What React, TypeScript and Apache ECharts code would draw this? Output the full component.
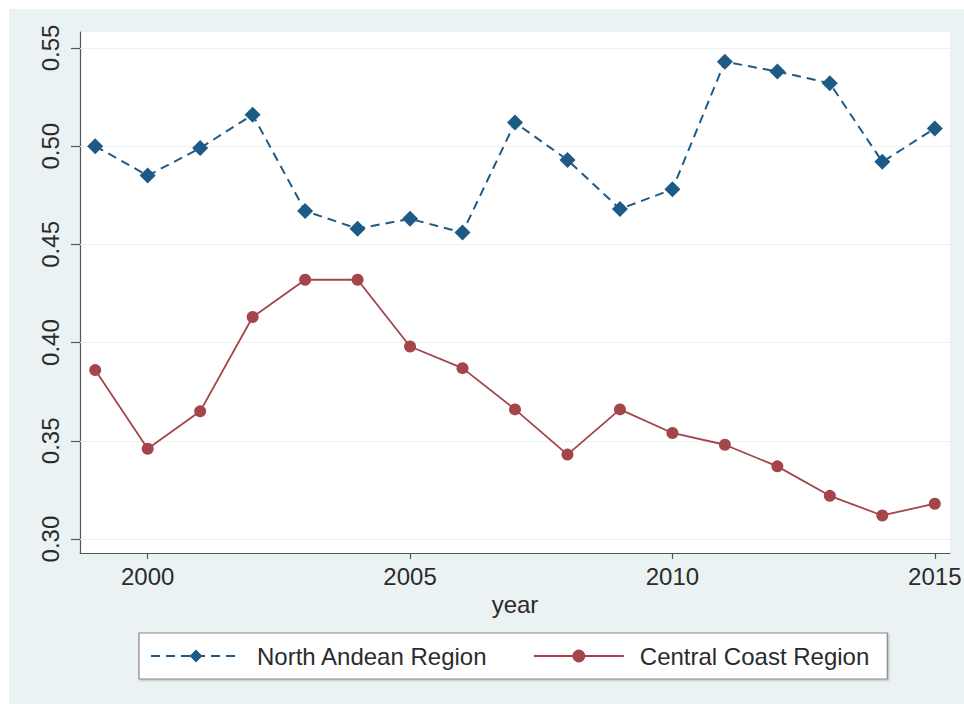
import React, { useEffect, useRef } from "react";
import * as echarts from "echarts";

const years = [1999, 2000, 2001, 2002, 2003, 2004, 2005, 2006, 2007, 2008, 2009, 2010, 2011, 2012, 2013, 2014, 2015];
const northAndean = [0.500, 0.485, 0.499, 0.516, 0.467, 0.458, 0.463, 0.456, 0.512, 0.493, 0.468, 0.478, 0.543, 0.538, 0.532, 0.492, 0.509];
const centralCoast = [0.386, 0.346, 0.365, 0.413, 0.432, 0.432, 0.398, 0.387, 0.366, 0.343, 0.366, 0.354, 0.348, 0.337, 0.322, 0.312, 0.318];
const yTicks = [0.30, 0.35, 0.40, 0.45, 0.50, 0.55];
const xTicks = [2000, 2005, 2010, 2015];
const seriesNames = ["North Andean Region", "Central Coast Region"];

const FONT = "'Liberation Sans', Arial, sans-serif";
const BLUE = "#1E5A86";
const RED = "#A3454A";
const GRID = "#EAF2F3";
const AXIS = "#555555";
const TEXT = "#2b2b2b";

export default function App() {
  const ref = useRef<HTMLDivElement>(null);
  useEffect(() => {
    if (!ref.current) return;
    const chart = echarts.init(ref.current, null, { renderer: "svg" });
    chart.setOption({
      animation: false,
      textStyle: { fontFamily: FONT },
      grid: {
        left: 80,
        right: 14,
        top: 32,
        bottom: 151,
        show: true,
        backgroundColor: "#ffffff",
        borderWidth: 0,
        outerBoundsMode: "none",
      },
      xAxis: {
        type: "value",
        min: 1998.71,
        max: 2015.29,
        name: "year",
        nameLocation: "middle",
        nameGap: 36,
        nameTextStyle: { fontSize: 24, color: TEXT, fontFamily: FONT },
        axisLine: { show: true, onZero: false, lineStyle: { color: AXIS, width: 1.2 } },
        axisTick: { show: true, customValues: xTicks, length: 6, lineStyle: { color: AXIS, width: 1.2 } },
        axisLabel: {
          customValues: xTicks,
          margin: 11,
          fontSize: 24,
          color: TEXT,
          fontFamily: FONT,
          formatter: (v: number) => String(v),
        },
        splitLine: { show: false },
      },
      yAxis: {
        type: "value",
        min: 0.2929,
        max: 0.5581,
        axisLine: { show: true, onZero: false, lineStyle: { color: AXIS, width: 1.2 } },
        axisTick: { show: true, customValues: yTicks, length: 9, lineStyle: { color: AXIS, width: 1.2 } },
        axisLabel: {
          customValues: yTicks,
          rotate: 90,
          margin: 18,
          fontSize: 24,
          color: TEXT,
          fontFamily: FONT,
          formatter: (v: number) => v.toFixed(2),
        },
        splitLine: { show: false },
      },
      legend: {
        left: 139,
        top: 633,
        orient: "horizontal",
        data: seriesNames,
        itemWidth: 90,
        itemHeight: 16,
        itemGap: 45,
        padding: [11, 18, 11, 11],
        backgroundColor: "#ffffff",
        borderColor: "#8a8a8a",
        borderWidth: 1.2,
        borderRadius: 0,
        shadowColor: "rgba(0,0,0,0.25)",
        shadowBlur: 2,
        shadowOffsetX: 1,
        shadowOffsetY: 1,
        textStyle: { fontSize: 24, color: TEXT, fontFamily: FONT, padding: [0, 0, 0, 11] },
      },
      series: [
        {
          name: seriesNames[0],
          type: "line",
          data: years.map((y, i) => [y, northAndean[i]]),
          symbol: "diamond",
          symbolSize: 16,
          itemStyle: { color: BLUE },
          lineStyle: { color: BLUE, width: 2, type: [9, 6] },
          z: 3,
          markLine: {
            silent: true,
            symbol: "none",
            z: 1,
            label: { show: false },
            lineStyle: { color: GRID, width: 1.2, type: "solid" },
            data: yTicks.map((v) => ({ yAxis: v })),
          },
        },
        {
          name: seriesNames[1],
          type: "line",
          data: years.map((y, i) => [y, centralCoast[i]]),
          symbol: "circle",
          symbolSize: 12,
          itemStyle: { color: RED },
          lineStyle: { color: RED, width: 1.8, type: "solid" },
          z: 3,
        },
      ],
    });
    return () => chart.dispose();
  }, []);
  return (
    <div
      ref={ref}
      style={{
        position: "fixed",
        left: 0,
        top: 0,
        width: 964,
        height: 704,
        background: "linear-gradient(#EAF2F3, #EAF2F3) 9px 9px / 955px 695px no-repeat, #ffffff",
      }}
    />
  );
}
